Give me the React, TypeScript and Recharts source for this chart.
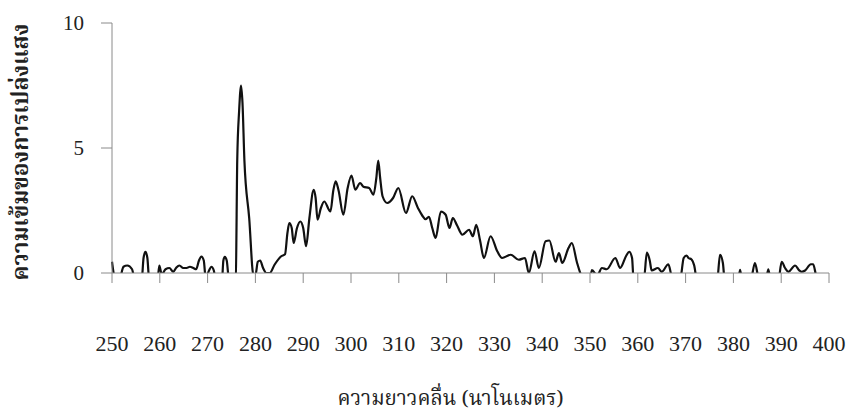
import React from 'react';
import { LineChart, Line, XAxis, YAxis } from 'recharts';

const wavelengths = [
  250.0, 250.6, 251.5, 252.4, 253.2, 254.2, 254.8, 256.2, 256.6, 257.0, 257.4, 257.8, 259.5, 259.9, 260.4,
  261.2, 262.0, 262.8, 263.4, 264.1, 264.9, 265.6, 266.3, 267.0, 267.6, 268.2, 268.7, 269.2, 269.6, 270.3,
  270.8, 271.3, 271.7, 273.0, 273.3, 273.6, 274.0, 274.5, 275.9, 276.2, 276.6, 277.0, 277.3, 277.7, 278.7,
  279.6, 280.0, 280.5, 281.0, 281.6, 282.3, 283.0, 284.0, 285.4, 286.2, 286.7, 287.1, 287.6, 288.0, 288.7,
  289.4, 290.0, 290.6, 291.3, 292.2, 292.6, 293.0, 293.7, 294.4, 295.7, 296.3, 296.8, 297.4, 298.4, 299.3,
  300.1, 300.9, 301.9, 302.6, 303.8, 304.7, 305.3, 305.7, 306.1, 306.6, 307.6, 308.8, 309.9, 311.5, 312.8,
  314.0, 314.9, 315.6, 316.3, 317.0, 317.7, 318.8, 319.8, 320.6, 321.3, 322.2, 323.3, 324.7, 325.5, 326.2,
  327.0, 327.8, 329.2, 330.6, 331.6, 333.4, 335.1, 336.4, 337.2, 338.4, 339.3, 340.7, 341.5, 342.8, 343.5,
  344.2, 345.5, 346.2, 347.3, 348.5, 350.0, 350.4, 351.5, 352.5, 353.5, 355.3, 356.3, 357.6, 358.2, 358.8,
  359.1, 361.3, 361.9, 362.5, 362.9, 364.2, 365.0, 366.4, 367.1, 368.9, 369.6, 370.2, 370.6, 371.2, 371.8,
  372.4, 376.6, 377.2, 377.8, 378.2, 381.0, 381.4, 381.8, 383.6, 384.5, 385.3, 386.8, 387.3, 387.8, 389.4,
  390.1, 390.8, 391.5, 392.9, 393.8, 394.3, 395.0, 396.2, 396.7, 397.3, 398.0,
];

const intensities = [
  0.45, -0.2, -0.3, 0.25, 0.3, 0.15, -0.3, -0.3, 0.6, 0.85, 0.6, -0.3, -0.3, 0.3, -0.05,
  0.15, 0.2, 0.05, 0.2, 0.3, 0.2, 0.2, 0.25, 0.2, 0.15, 0.5, 0.66, 0.5, -0.2, 0.1,
  0.25, 0.1, -0.3, -0.3, 0.5, 0.65, 0.5, -0.3, -0.1, 4.5, 6.5, 7.5, 6.8, 4.5, 2.2,
  -0.1, -0.1, 0.45, 0.5, 0.2, 0.0, 0.0, 0.33, 0.67, 0.75, 1.6, 2.0, 1.8, 1.2, 1.8,
  2.06, 1.8, 1.07, 2.2, 3.33, 3.0, 2.13, 2.6, 2.86, 2.46, 3.3, 3.67, 3.3, 2.33, 3.4,
  3.9, 3.33, 3.6, 3.45, 3.4, 3.13, 3.8, 4.5, 3.8, 3.07, 2.8, 3.0, 3.4, 2.4, 3.07,
  2.6, 2.3, 2.15, 2.25, 1.8, 1.4, 2.46, 2.33, 1.8, 2.2, 1.9, 1.53, 1.73, 1.47, 1.93,
  1.3, 0.6, 1.47, 0.87, 0.6, 0.73, 0.53, 0.6, 0.0, 0.87, 0.2, 1.27, 1.3, 0.45, 0.8,
  0.4, 1.0, 1.2, 0.4, -0.2, -0.3, 0.12, -0.1, 0.2, 0.15, 0.6, 0.2, 0.7, 0.85, 0.6,
  -0.2, -0.2, 0.82, 0.5, 0.1, 0.2, 0.05, 0.35, -0.1, -0.2, 0.6, 0.7, 0.6, 0.55, 0.3,
  -0.3, -0.3, 0.73, 0.4, -0.3, -0.3, 0.13, -0.3, -0.3, 0.4, -0.2, -0.3, 0.15, -0.3, -0.3,
  0.45, 0.2, 0.05, 0.3, 0.1, 0.05, 0.1, 0.35, 0.35, -0.1, -0.3,
];

const xTicks = [250, 260, 270, 280, 290, 300, 310, 320, 330, 340, 350, 360, 370, 380, 390, 400];
const yTicks = [0, 5, 10];

const xTitle = 'ความยาวคลื่น (นาโนเมตร)';
const yTitle = 'ความเข้มของการเปล่งแสง';

const data = wavelengths.map((x, i) => ({ x, y: intensities[i] }));

const thaiFont = '"Noto Serif Thai", "Noto Sans Thai", Garuda, Loma, "Liberation Serif", serif';

const XTitle = (props: any) => {
  const vb = props.viewBox || {};
  const cx = vb.x + vb.width / 2 - 20;
  return (
    <text x={cx} y={399} textAnchor="middle" dominantBaseline="central" fontSize={20.5} fill="#222" fontFamily={thaiFont}>
      {xTitle}
    </text>
  );
};

const YTitle = (props: any) => {
  const vb = props.viewBox || {};
  const cx = 22;
  const cy = vb.y + vb.height / 2 + 4;
  return (
    <text
      x={cx}
      y={cy}
      transform={`rotate(-90 ${cx} ${cy})`}
      textAnchor="middle"
      dominantBaseline="central"
      fontSize={22.5}
      fontWeight="bold"
      fill="#222"
      fontFamily={thaiFont}
    >
      {yTitle}
    </text>
  );
};

export default function App() {
  return (
    <div style={{ position: 'absolute', left: 0, top: 0, width: 851, height: 417, background: '#fff' }}>
      <LineChart width={851} height={417} data={data} margin={{ top: 23, right: 22, bottom: 0, left: 0 }}>
        <XAxis
          dataKey="x"
          type="number"
          domain={[250, 400]}
          ticks={xTicks}
          interval={0}
          height={144}
          tickSize={10}
          tickMargin={52}
          axisLine={{ stroke: '#8a8a8a', strokeWidth: 1 }}
          tickLine={{ stroke: '#8a8a8a', strokeWidth: 1 }}
          tick={{ fontSize: 22, fill: '#222', fontFamily: '"Liberation Serif", serif' }}
          label={<XTitle />}
        />
        <YAxis
          type="number"
          domain={[0, 10]}
          ticks={yTicks}
          allowDataOverflow
          width={112}
          tickSize={11}
          tickMargin={17}
          axisLine={{ stroke: '#8a8a8a', strokeWidth: 1 }}
          tickLine={{ stroke: '#8a8a8a', strokeWidth: 1 }}
          tick={{ fontSize: 21, fill: '#222', fontFamily: '"Liberation Serif", serif' }}
          label={<YTitle />}
        />
        <Line
          dataKey="y"
          type="monotone"
          stroke="#111"
          strokeWidth={2.2}
          dot={false}
          isAnimationActive={false}
        />
      </LineChart>
    </div>
  );
}
